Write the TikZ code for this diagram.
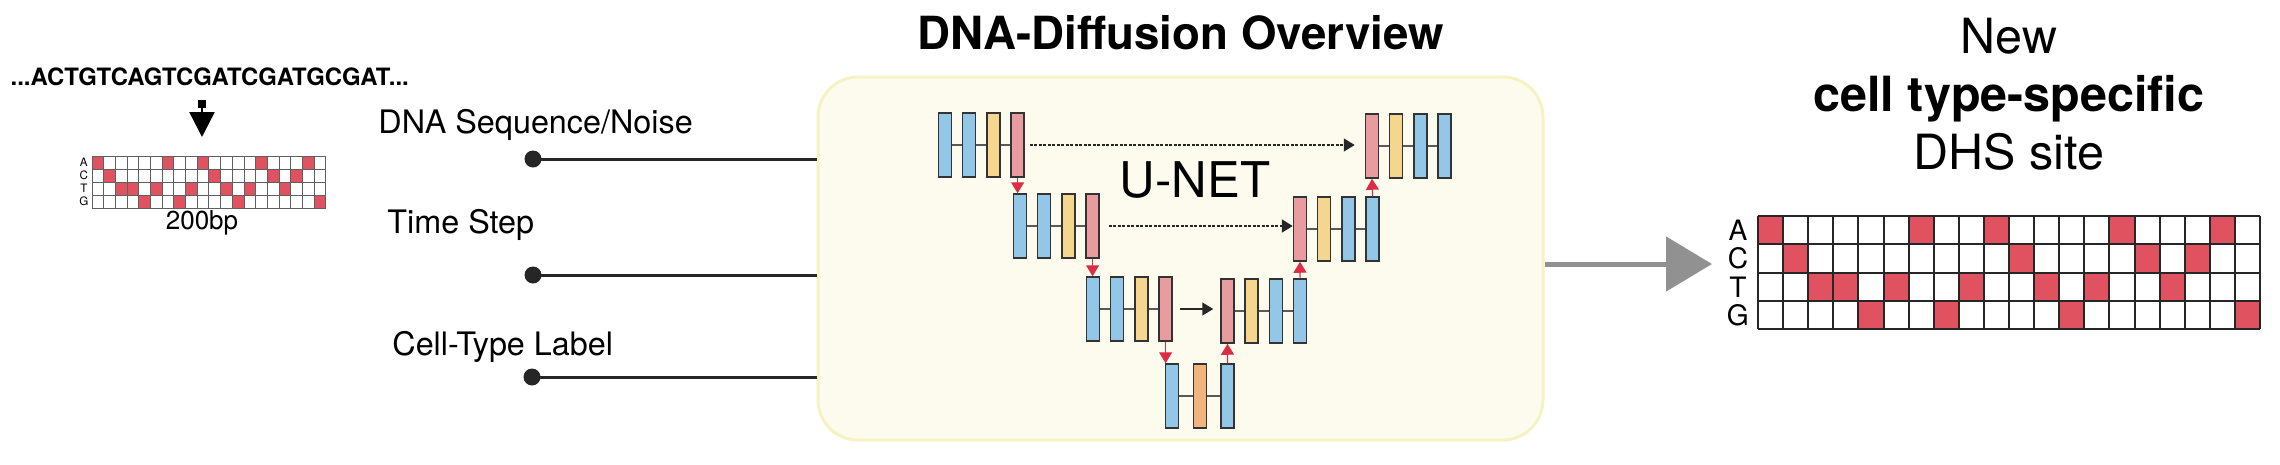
\documentclass[tikz,border=0pt]{standalone}
\usepackage{fontspec}
\setmainfont{TeX Gyre Heros}
\usetikzlibrary{calc}
\usetikzlibrary{arrows.meta}
\usetikzlibrary{positioning}

\definecolor{ublue}{RGB}{146,199,232}
\definecolor{uyellow}{RGB}{245,214,142}
\definecolor{upink}{RGB}{232,156,160}
\definecolor{uorange}{RGB}{240,180,125}
\definecolor{ured}{RGB}{220,45,70}
\definecolor{cellred}{RGB}{224,82,96}
\definecolor{boxfill}{RGB}{253,251,238}
\definecolor{boxline}{RGB}{245,243,195}
\definecolor{arrowgray}{RGB}{145,145,145}

\newcommand{\fsz}[2]{\fontsize{#1}{#2}\selectfont}

\newcommand{\ublock}[5]{%
  \foreach \c [count=\i, remember=\i as \p (initially 0)] in {#5} {
    \node[ubar,fill=\c] (#1\i) at ({#2+(\i-1)*#4},#3) {};
    \ifnum\i>1 \draw[link] (#1\p.east) -- (#1\i.west);\fi
  }}

\newcommand{\seqgrid}[1]{%
  \foreach \r [count=\c] in {1,2,3,3,4,3,1,4,3,1,2,3,4,3,1,2,3,2,1,4}
    \fill[cellred] (\c-1,\r-1) rectangle ++(1,1);
  \foreach \k in {0,...,20} \draw[#1] (\k,0) -- (\k,4);
  \foreach \k in {0,...,4} \draw[#1] (0,\k) -- (20,\k);}

\tikzset{
  ubar/.style={draw=black!80,line width=0.15mm,minimum width=1.3mm,minimum height=6.4mm,inner sep=0pt},
  link/.style={draw=black!65,line width=0.18mm},
  redarrow/.style={ured,line width=0.12mm,-{Triangle[length=1.1mm,width=1.3mm]}},
  skiparrow/.style={black!85,line width=0.15mm,dash pattern=on 0.3mm off 0.15mm,-{Triangle[length=1.1mm,width=1.3mm]}},
  inline/.style={black!85,line width=0.3mm},
  indot/.style={circle,fill=black!85,minimum size=1.7mm,inner sep=0pt},
  inlabel/.style={anchor=base west,font=\fsz{9.2}{11}},
  outarrow/.style={arrowgray,line width=0.5mm,-{Triangle[length=4.6mm,width=5.4mm]}}
}

\begin{document}
\begin{tikzpicture}[x=0.1mm,y=-0.1mm]
\useasboundingbox (0,0) rectangle (2280,464);

\node[anchor=west,inner sep=0pt,font=\bfseries\fsz{6.8}{8}] (seq) at (10,77) {...ACTGTCAGTCGATCGATGCGAT...};
\coordinate (seqtop) at (202,100);
\coordinate (seqtip) at (202,137);
\draw[{Square[length=0.8mm,width=0.8mm]}-{Triangle[length=2.5mm,width=2.5mm]},line width=0.25mm] (seqtop) -- (seqtip);
\begin{scope}[shift={(92,156)},x=1.17mm,y=-1.3mm]
  \seqgrid{gray!75!black,line width=0.1mm}
  \foreach \b [count=\i] in {A,C,T,G}
    \node[font=\fsz{3.3}{4}] (sl\b) at (-0.7,\i-0.5) {\b};
\end{scope}
\node[font=\fsz{7.4}{9}] (bp) at (202,223) {200bp};

\node[indot] (dseq) at (533,159) {};
\node[indot] (dtime) at (533,275) {};
\node[indot] (dcell) at (532,377) {};
\node[inlabel] (lseq) at (366,133) {DNA Sequence/Noise};
\node[inlabel] (ltime) at (375,233) {Time Step};
\node[inlabel] (lcell) at (380,355) {Cell-Type Label};

\node[draw=boxline,fill=boxfill,line width=0.3mm,rounded corners=4mm,minimum width=72.5mm,minimum height=36.3mm,inner sep=0pt] (unet) at (1180.5,258.5) {};
\node[font=\bfseries\fsz{13}{15}] (title) at (1181,33) {DNA-Diffusion Overview};

\draw[inline] (dseq.center) -- (dseq -| unet.west);
\draw[inline] (dtime.center) -- (dtime -| unet.west);
\draw[inline] (dcell.center) -- (dcell -| unet.west);

\ublock{e1}{945}{145}{24.2}{ublue,ublue,uyellow,upink}
\ublock{e2}{1020}{226}{24.2}{ublue,ublue,uyellow,upink}
\ublock{e3}{1093}{309}{24.2}{ublue,ublue,uyellow,upink}
\ublock{bn}{1172}{396}{27.8}{ublue,uorange,ublue}
\ublock{d3}{1227.5}{311}{24.2}{upink,uyellow,ublue,ublue}
\ublock{d2}{1300}{229}{24.2}{upink,uyellow,ublue,ublue}
\ublock{d1}{1372}{146}{24.2}{upink,uyellow,ublue,ublue}
\node[font=\fsz{14}{16}] (unetlabel) at (1195,180) {U-NET};

\draw[redarrow] (e14.south) -- (e14.south |- e21.north);
\draw[redarrow] (e24.south) -- (e24.south |- e31.north);
\draw[redarrow] (e34.south) -- (e34.south |- bn1.north);
\draw[redarrow] (bn3.north) -- (d31.south);
\draw[redarrow] (d34.north) -- (d21.south);
\draw[redarrow] (d24.north) -- (d11.south);

\draw[skiparrow] ($(e14.east)+(5,0)$) -- ($(d11.west |- e14.east)+(-10,0)$);
\draw[skiparrow,line width=0.2mm] ($(e24.east)+(9,0)$) -- (d21.west |- e24.east);
\draw[black!85,line width=0.15mm,-{Triangle[length=1.1mm,width=1.3mm]}] ($(e34.east)+(7,0)$) -- ($(d31.west |- e34.east)+(-7,0)$);

\coordinate (gridin) at (1712,264);
\draw[outarrow] (unet.east |- gridin) -- (gridin);

\node[align=center,anchor=north,inner sep=0pt,font=\fsz{13.8}{16.6}] (head) at (2009,17) {New\\\textbf{cell type-specific}\\DHS site};
\begin{scope}[shift={(1758,216)},x=2.51mm,y=-2.83mm]
  \seqgrid{black!85,line width=0.2mm}
  \foreach \b [count=\i] in {A,C,T,G}
    \node[font=\fsz{8}{9}] (gl\b) at (-0.8,\i-0.5) {\b};
\end{scope}
\end{tikzpicture}
\end{document}
